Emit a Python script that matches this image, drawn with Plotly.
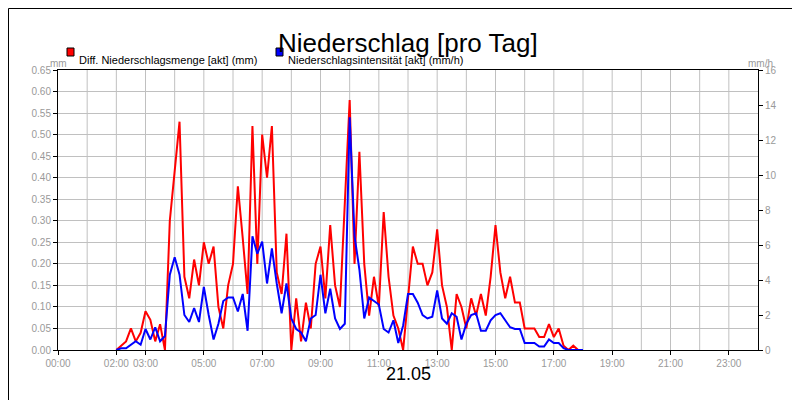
import plotly.graph_objects as go

# 10-minute steps from 02:00 to 18:00
times = [2 + i / 6 for i in range(97)]

menge_mm = [
    0, 0.01, 0.02, 0.05, 0.02, 0.04,
    0.09, 0.07, 0.02, 0.06, 0.0, 0.30,
    0.41, 0.53, 0.17, 0.12, 0.21, 0.15,
    0.25, 0.20, 0.24, 0.10, 0.05, 0.15,
    0.20, 0.38, 0.26, 0.13, 0.52, 0.20,
    0.50, 0.40, 0.52, 0.18, 0.13, 0.27,
    0.0, 0.12, 0.02, 0.11, 0.05, 0.20,
    0.24, 0.12, 0.29, 0.15, 0.10, 0.35,
    0.58, 0.20, 0.46, 0.20, 0.08, 0.17,
    0.10, 0.32, 0.17, 0.08, 0.05, 0.0,
    0.12, 0.24, 0.20, 0.20, 0.15, 0.18,
    0.28, 0.15, 0.10, 0.0, 0.13, 0.10,
    0.05, 0.12, 0.08, 0.13, 0.08, 0.17,
    0.29, 0.18, 0.12, 0.17, 0.11, 0.11,
    0.05, 0.05, 0.05, 0.03, 0.03, 0.06,
    0.03, 0.05, 0.01, 0.0, 0.01, 0.0,
    0,
]

intensitaet_mmh = [
    0, 0.1, 0.1, 0.3, 0.5, 0.3,
    1.2, 0.6, 1.3, 0.5, 0.8, 4.3,
    5.3, 4.3, 2.0, 1.6, 2.4, 1.6,
    3.6, 2.0, 0.6, 1.5, 2.8, 3.0,
    3.0, 2.2, 3.2, 1.1, 6.5, 5.5,
    6.2, 3.8, 5.8, 3.8, 2.1, 3.8,
    1.8, 1.2, 1.0, 0.5, 1.8, 2.0,
    4.3, 2.1, 3.5, 1.8, 1.2, 1.5,
    13.3, 6.5, 4.6, 1.8, 3.0, 2.8,
    2.6, 1.2, 1.0, 1.7, 0.4, 1.4,
    3.2, 3.2, 2.7, 2.0, 1.8, 1.9,
    3.4, 1.8, 1.5, 2.1, 1.9, 0.6,
    1.5, 2.0, 2.1, 1.1, 1.1, 1.7,
    2.0, 2.1, 1.7, 1.3, 1.2, 1.2,
    0.4, 0.4, 0.4, 0.2, 0.2, 0.6,
    0.4, 0.4, 0.1, 0, 0, 0,
    0,
]

x_tickvals = [0, 2, 3, 5, 7, 9, 11, 13, 15, 17, 19, 21, 23]
x_ticktext = ["%02d:00" % h for h in x_tickvals]
left_ticks = [round(i * 0.05, 2) for i in range(14)]
right_ticks = list(range(0, 17, 2))

FONT = "Liberation Sans"
GREY = "#999999"

fig = go.Figure()
fig.add_trace(go.Scatter(x=times, y=menge_mm, mode="lines",
                         line=dict(color="#ff0000", width=2), showlegend=False))
fig.add_trace(go.Scatter(x=times, y=intensitaet_mmh, mode="lines", yaxis="y2",
                         line=dict(color="#0000ff", width=2), showlegend=False))

W, H = 700, 280  # plot area
fig.update_layout(
    width=800, height=400,
    margin=dict(l=50, r=50, t=62, b=58, autoexpand=False),
    paper_bgcolor="white", plot_bgcolor="white",
    font=dict(family=FONT, size=10, color=GREY),
    xaxis=dict(range=[0, 24], tickvals=x_tickvals, ticktext=x_ticktext,
               showgrid=False, automargin=False,
               ticks="outside", ticklen=4, tickcolor="black",
               showline=True, linecolor="black", mirror=True, zeroline=False),
    yaxis=dict(range=[0, 0.65], tickvals=left_ticks, automargin=False,
               ticktext=["%.2f" % v for v in left_ticks],
               showgrid=True, gridcolor="#c0c0c0", ticks="outside", ticklen=4,
               tickcolor="black", showline=True, linecolor="black", zeroline=False),
    yaxis2=dict(range=[0, 16], tickvals=right_ticks, overlaying="y", side="right",
                showgrid=False, ticks="outside", ticklen=4, tickcolor="black",
                automargin=False,
                showline=True, linecolor="black", zeroline=False),
)
# x grid every hour
for h in range(1, 24):
    fig.add_shape(type="line", xref="x", yref="paper", x0=h, x1=h, y0=0, y1=1,
                  line=dict(color="#c0c0c0", width=1), layer="below")


def px(x, y):
    return (x - 50) / W, (342 - y) / H


# outer border
x0, y0 = px(0.5, 399.5)
x1, y1 = px(799.5, 0.5)
fig.add_shape(type="rect", xref="paper", yref="paper", x0=x0, y0=y0, x1=x1, y1=y1,
              line=dict(color="black", width=1))

# title and date
tx, ty = px(400, 18)
fig.add_annotation(text="Niederschlag [pro Tag]", x=tx, y=ty, xref="paper", yref="paper",
                   showarrow=False, font=dict(size=26, color="black", family=FONT))
dx, dy = px(400, 378)
fig.add_annotation(text="21.05", x=dx, y=dy, xref="paper", yref="paper",
                   showarrow=False, font=dict(size=18, color="black", family=FONT))

# unit labels
ux, uy = px(40, 48)
fig.add_annotation(text="mm", x=ux, y=uy, xref="paper", yref="paper",
                   showarrow=False, font=dict(size=10, color=GREY))
ux, uy = px(767, 48)
fig.add_annotation(text="mm/h", x=ux, y=uy, xref="paper", yref="paper",
                   showarrow=False, font=dict(size=10, color=GREY))

# legend
for lx, color, label in [(59, "#ff0000", "Diff. Niederschlagsmenge [akt] (mm)"),
                         (268, "#0000ff", "Niederschlagsintensität [akt] (mm/h)")]:
    a, b = px(lx, 48)
    c, d = px(lx + 7, 40)
    fig.add_shape(type="rect", xref="paper", yref="paper", x0=a, y0=b, x1=c, y1=d,
                  fillcolor=color, line=dict(color="black", width=1))
    tx, ty = px(lx + 10, 44)
    fig.add_annotation(text=label, x=tx, y=ty, xref="paper", yref="paper", xanchor="left",
                       showarrow=False, font=dict(size=11, color="black", family=FONT))

fig.write_html("out.html")
